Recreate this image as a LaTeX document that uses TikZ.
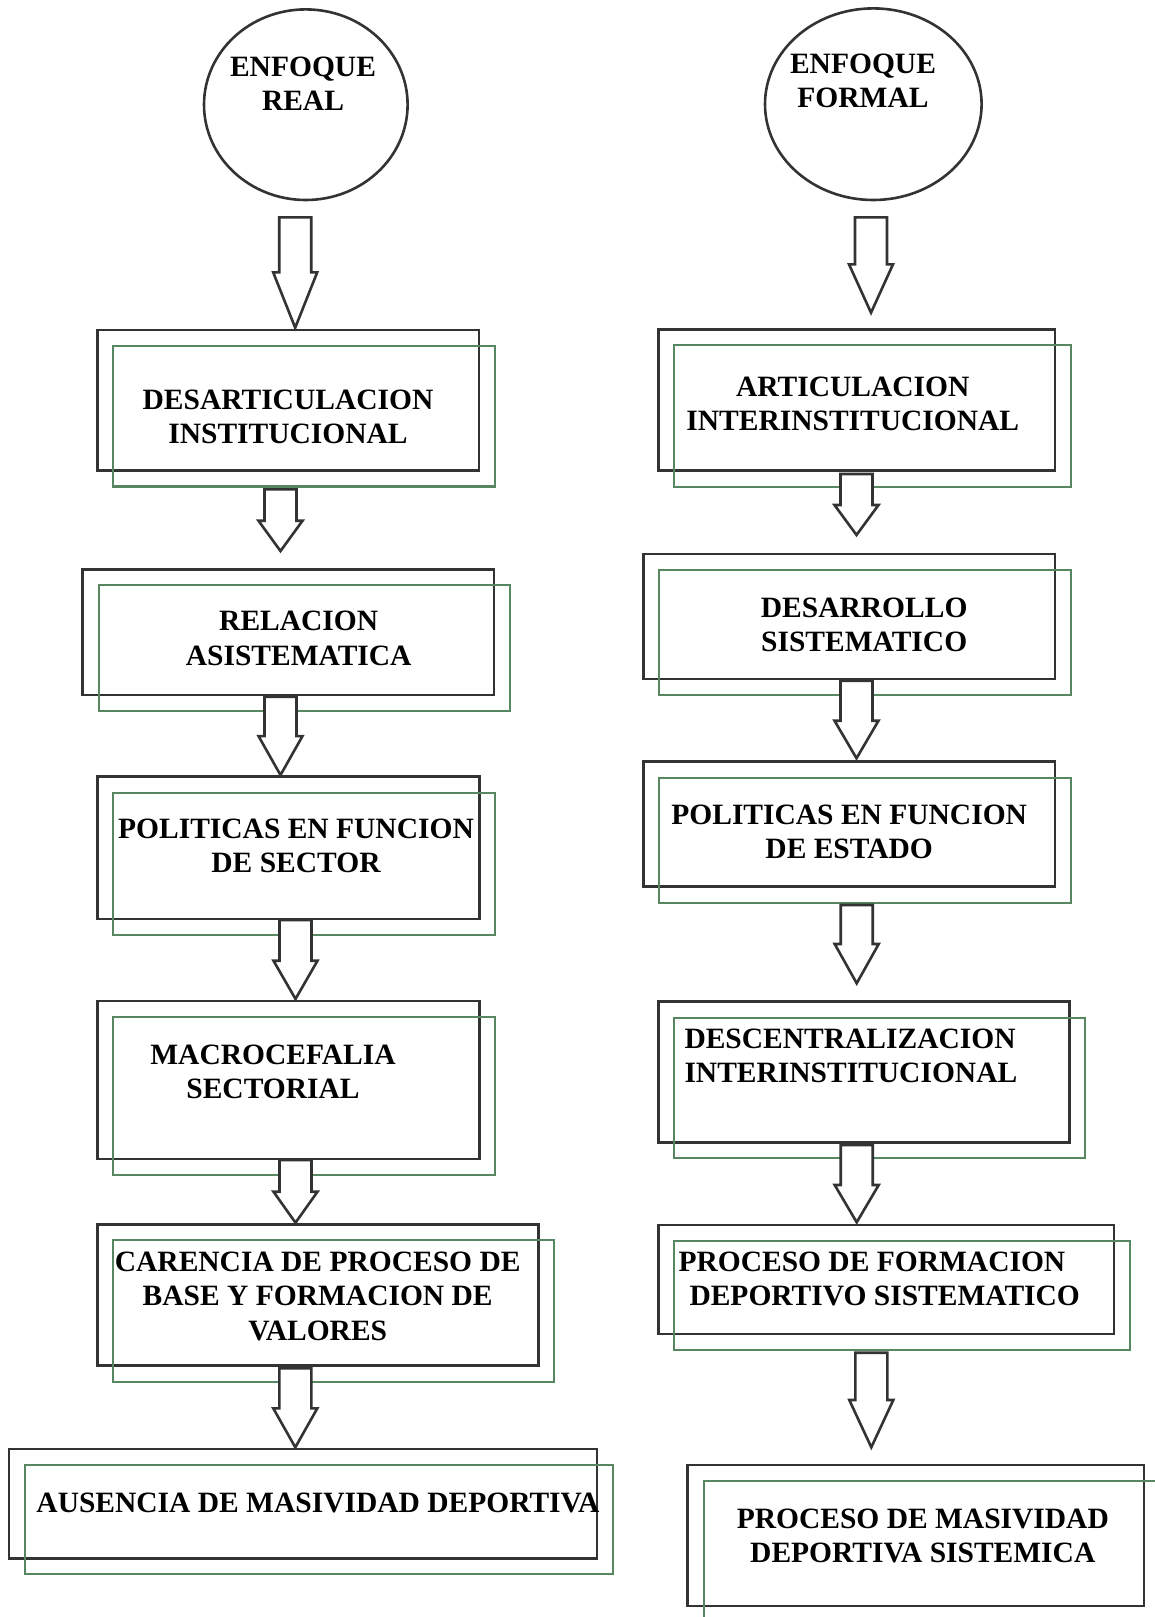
\documentclass[tikz,border=0pt]{standalone}
\usepackage{fontspec}
\setmainfont{Liberation Serif}
\usetikzlibrary{calc,shapes.geometric}
\definecolor{linegray}{RGB}{51,51,51}
\definecolor{framegreen}{RGB}{86,135,96}

\begin{document}
\begin{tikzpicture}[x=1pt,y=-1pt,
  box/.style={draw=linegray, line width=2.8pt, rectangle, inner sep=0pt, outer sep=0pt},
  oval/.style={draw=linegray, line width=2.6pt, ellipse, inner sep=0pt, outer sep=0pt},
  label/.style={font=\fontsize{29.5}{34.3}\selectfont\bfseries, inner sep=0pt, align=center, anchor=base},
  leftlabel/.style={label, align=left, anchor=base west},
  greenframe/.style={draw=framegreen, line width=2.2pt},
  blockarrow/.style 2 args={draw=linegray, fill=white, line width=2.6pt, line join=miter,
    to path={let \p1=(\tikztostart), \p2=(\tikztotarget) in
      (\x1-16pt,\y1) -- (\x1+16pt,\y1) -- (\x1+16pt,\y2+#1+#2) -- (\x1+22pt,\y2+#1+#2)
      -- (\x1,\y2+#1) -- (\x1-22pt,\y2+#1+#2) -- (\x1-16pt,\y2+#1+#2) -- cycle}}
]
\useasboundingbox (0,0) rectangle (1154,1617);

% heading ovals
\node[oval, minimum width=203.6pt, minimum height=190.6pt] (e1) at (305.8,104.7) {};
\node[oval, minimum width=216.6pt, minimum height=191.6pt] (e2) at (873.3,104.2) {};

% left column boxes
\node[box, minimum width=381.7pt, minimum height=140.5pt] (b1) at (288.2,400.3) {};
\node[box, minimum width=411.3pt, minimum height=125.7pt] (b2) at (288.4,632.2) {};
\node[box, minimum width=382pt, minimum height=142.3pt] (b3) at (288.3,847.9) {};
\node[box, minimum width=382pt, minimum height=158pt] (b4) at (288.3,1080) {};
\node[box, minimum width=441pt, minimum height=141.4pt] (b5) at (317.8,1295) {};
\node[box, minimum width=588pt, minimum height=109.3pt] (b6) at (303,1503.7) {};

% right column boxes
\node[box, minimum width=396.7pt, minimum height=141.4pt] (r1) at (856.7,400) {};
\node[box, minimum width=411.7pt, minimum height=125pt] (r2) at (849.2,616.5) {};
\node[box, minimum width=411.7pt, minimum height=125pt] (r3) at (849.2,824.2) {};
\node[box, minimum width=411pt, minimum height=140.6pt] (r4) at (863.8,1072) {};
\node[box, minimum width=455.7pt, minimum height=109pt] (r5) at (886.2,1279.5) {};
\node[box, minimum width=456.3pt, minimum height=141pt] (r6) at (915.9,1535.5) {};

% offset green frames behind each box
\foreach \n in {b1,b2,b3,b4,b5,b6,r1,r2,r3,r4,r5,r6}
  \draw[greenframe] ([shift={(16pt,-16pt)}]\n.south west) rectangle ([shift={(16pt,-16pt)}]\n.north east);

% arrow tails
\coordinate (tl1) at (295.2,217.3);
\coordinate (tl2) at (280.5,489.3);
\coordinate (tl3) at (280.5,696.7);
\coordinate (tl4) at (295.5,920);
\coordinate (tl5) at (295.5,1160);
\coordinate (tl6) at (295.3,1368.3);
\coordinate (tr1) at (871,217.3);
\coordinate (tr2) at (856.5,474);
\coordinate (tr3) at (856.5,680.7);
\coordinate (tr4) at (856.7,905);
\coordinate (tr5) at (856.7,1145);
\coordinate (tr6) at (871.3,1352.7);

% block arrows: {gap above target}{head length}
\draw[blockarrow={2.3pt}{55.4pt}] (tl1) to (b1.north);
\draw[blockarrow={18.3pt}{30.3pt}] (tl2) to (b2.north);
\draw[blockarrow={1.7pt}{39pt}] (tl3) to (b3.north);
\draw[blockarrow={2pt}{38.3pt}] (tl4) to (b4.north);
\draw[blockarrow={1.6pt}{31pt}] (tl5) to (b5.north);
\draw[blockarrow={1.7pt}{39pt}] (tl6) to (b6.north);
\draw[blockarrow={16.6pt}{48.4pt}] (tr1) to (r1.north);
\draw[blockarrow={19pt}{30pt}] (tr2) to (r2.north);
\draw[blockarrow={3.4pt}{37.6pt}] (tr3) to (r3.north);
\draw[blockarrow={18.4pt}{39.3pt}] (tr4) to (r4.north);
\draw[blockarrow={2.7pt}{37.3pt}] (tr5) to (r5.north);
\draw[blockarrow={17.7pt}{47.3pt}] (tr6) to (r6.north);

% texts (anchored at the baseline of the last line)
\node[label] (te1) at (303,110.7) {ENFOQUE\\REAL};
\node[label] (te2) at (863,107.3) {ENFOQUE\\FORMAL};
\node[label] (tb1) at (288,443.3) {DESARTICULACION\\INSTITUCIONAL};
\node[label] (tb2) at (298.7,665) {RELACION\\ASISTEMATICA};
\node[label] (tb3) at (296,872.7) {POLITICAS EN FUNCION\\DE SECTOR};
\node[label] (tb4) at (273,1098.3) {MACROCEFALIA\\SECTORIAL};
\node[label] (tb5) at (317.7,1340) {CARENCIA DE PROCESO DE\\BASE Y FORMACION DE\\VALORES};
\node[label] (tb6) at (318,1512.7) {AUSENCIA DE MASIVIDAD DEPORTIVA};
\node[label] (tr1t) at (852.8,430.7) {ARTICULACION\\INTERINSTITUCIONAL};
\node[label] (tr2t) at (864.2,651.7) {DESARROLLO\\SISTEMATICO};
\node[label] (tr3t) at (849.2,858.3) {POLITICAS EN FUNCION\\DE ESTADO};
\node[leftlabel] (tr4t) at (684.3,1082.3) {DESCENTRALIZACION\\INTERINSTITUCIONAL};
\node[leftlabel] (tr5t) at (678.3,1305.7) {PROCESO DE FORMACION\\\hspace*{11pt}DEPORTIVO SISTEMATICO};
\node[label] (tr6t) at (922.8,1562.3) {PROCESO DE MASIVIDAD\\DEPORTIVA SISTEMICA};
\end{tikzpicture}
\end{document}
